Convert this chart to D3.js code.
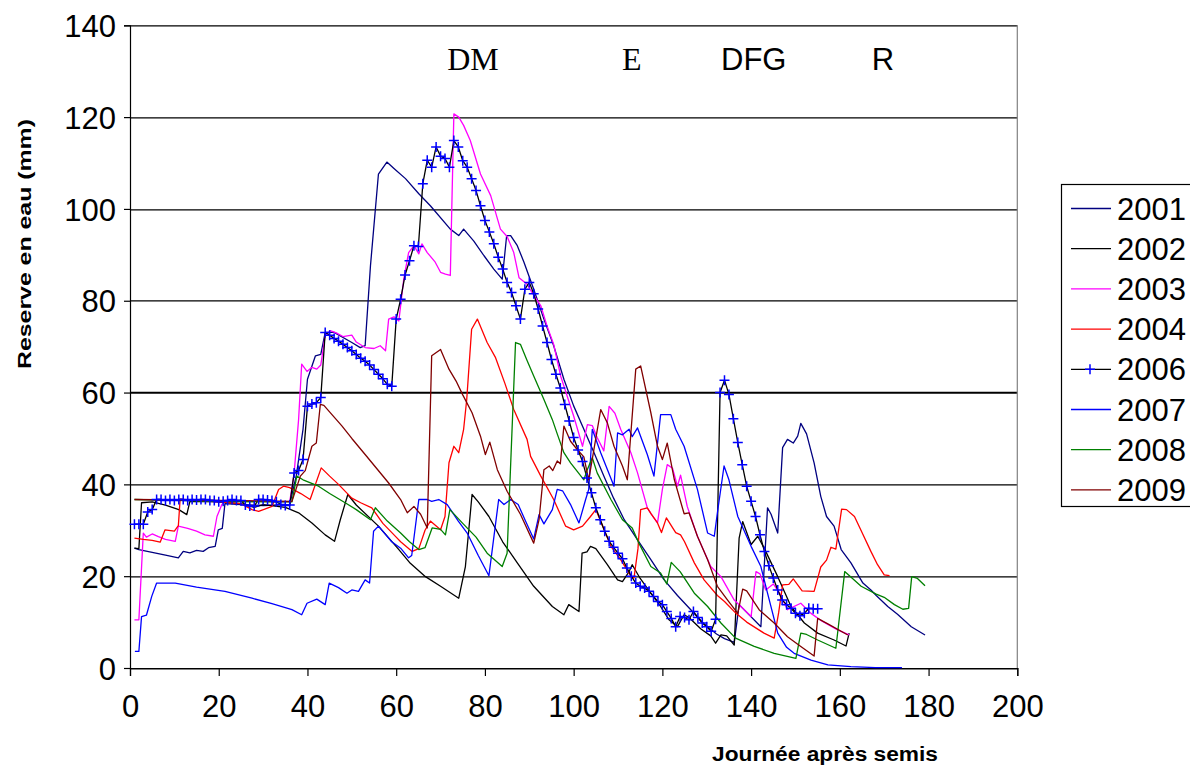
<!DOCTYPE html>
<html>
<head>
<meta charset="utf-8">
<script src="https://cdn.jsdelivr.net/npm/d3@7/dist/d3.min.js"></script>
<style>
body { margin: 0; background: #fff; }
svg text { font-family: Arial, "Liberation Sans", sans-serif; fill: #000; }
</style>
</head>
<body>
<svg id="chart" width="1190" height="767"></svg>
<script>
// Series (day after sowing, water reserve in mm)
var years = ['2001', '2002', '2003', '2004', '2006', '2007', '2008', '2009'];
var colors = ['#000080', '#000000', '#ff00ff', '#ff0000', '#000000', '#0000ff', '#008000', '#800000'];

var s2001 = [[1,26.1],[2,25.8],[5,25.2],[8,24.6],[10.9,24],[12,25.4],[13.5,25.1],[15,25.6],[16.5,25.4],[17.7,26.2],[19.2,26.5],[19.9,30.1],[20.8,30.4],[21.4,35.8],[25,35.6],[30,35.4],[36,35.6],[37.5,42],[39,52],[40,62.9],[41.8,68],[43,68.3],[44,73.1],[46,73.1],[50,70.9],[51.9,69.8],[53,70.2],[54.2,87.6],[56,107.6],[57.9,110.2],[59.5,108.8],[62.1,106.6],[65.1,103.3],[67.7,100.7],[72.2,95.6],[74.1,94.2],[75.2,95.6],[77.5,93],[79.8,89.8],[82,86.9],[83.9,84.7],[84.9,94.2],[85.8,94.2],[87.3,92],[88.8,88.4],[91,82.5],[93.3,76],[95.5,70.2],[97.8,62.9],[100,57.1],[102.3,52],[104.6,46.9],[106.8,41.8],[109,37],[111.4,32.3],[114.4,27.9],[117.4,23.6],[120.4,19.2],[123.4,15.8],[126.4,12.7],[129.2,9.8],[132.2,7.4],[134,6.4],[136.2,5.6],[137.3,13.8],[142.2,9],[143.7,34.9],[144.5,33.5],[146,29.4],[147.1,48],[148.2,49.8],[149.5,49],[150.5,50.5],[151.2,53.3],[152.5,51],[154.2,44.7],[155.7,37.4],[157,33],[158.7,30.9],[160.3,25.8],[162.5,22.9],[165.2,18.5],[167,17],[168.2,15.8],[170.8,13.4],[173,11.7],[176.1,9],[179.2,7.2]];

var s2002 = [[1,26.1],[2,26],[2.6,36],[5,36.2],[8,35.5],[11,34.5],[12.8,33.4],[13.5,36.3],[20,36.2],[25,35.8],[28,35],[30,35.6],[35,35],[38,33.8],[41,31.6],[44,29],[46.1,27.6],[47.4,32.3],[49.1,37.8],[51,35.5],[56,30.9],[60.6,25.8],[63,23],[66.6,19.9],[70,17.8],[74.1,15.2],[75.6,22.1],[77.1,37.8],[78.5,36.2],[80.9,33],[84,27.5],[87.3,22.9],[91,17.8],[95.2,13.4],[97.8,11.6],[98.9,13.8],[101.2,12.3],[101.9,25],[103,25.3],[103.8,26.5],[105,26],[107.6,22.5],[109.9,19.2],[111,18.8],[112.5,21],[113.2,22.5],[115,19.5],[117.4,16.3],[119.6,13.4],[121.5,10.5],[123.4,9],[124.9,11.6],[126,11],[128.7,8.5],[130.9,7],[132,5.4],[133.2,7.2],[134.5,7],[136.2,5],[137.3,28.3],[138.1,31.9],[140,26.9],[141.5,28.7],[143,26],[146,19.9],[149,13.4],[152,9.8],[155,7.6],[158.7,6.1],[161.4,4.8],[162.1,7.6]];

var s2003 = [[1,10.5],[2,10.5],[3,29.4],[3.7,28.5],[5,29.2],[6.4,28.6],[8,28],[10.2,27.6],[10.9,30.9],[13,30.4],[15,29.8],[16.9,29],[18.8,28.7],[19.6,33],[20.7,35.6],[21.5,36.5],[30,36.3],[36,36.2],[37,42.5],[38,54.1],[38.7,66.2],[39.9,64.6],[41,65.5],[42.1,65.1],[43,66],[44,72.4],[45.1,73.5],[46.5,73],[48,72.2],[50,72.5],[51,71],[53,69.8],[55,69.6],[56.4,70.2],[57.6,69.1],[58.3,76],[59.5,76.5],[60.6,75.6],[61.7,84.7],[62.8,90.5],[64,92],[65.1,90.2],[65.8,92.4],[67,90.5],[68.8,88.4],[70,86.2],[71.1,85.8],[72.2,85.5],[73,120.7],[74.1,120],[75.2,118.2],[76.7,114.9],[79,107.6],[81.3,102.9],[83.5,95.6],[85,94],[86.5,90.5],[87.7,85],[89.5,83.6],[90.5,82],[92.6,78.9],[94,74.5],[95.5,70.5],[97.1,63.5],[100,54.9],[102,48.3],[103.1,53],[104.2,52.8],[105.3,50.2],[106.8,47.3],[108,57],[109.3,55.5],[110.6,52],[112.9,46.9],[114.4,42.5],[116.6,34.9],[117.5,33.5],[118.9,31.6],[120,38.9],[121.1,44.3],[122.3,43.5],[123.4,39.6],[124.1,42],[125.6,35.2],[127.9,28.7],[130.9,22.1],[133.2,19.9],[136.2,14.8],[140,11.2],[141.1,21],[142,20.5],[143.3,17],[145,18.3],[146.3,16.5],[148.2,12.7],[151.2,14.1],[153.5,11.9],[156,10.2],[159.5,8.3],[162.1,7.2]];

var s2004 = [[1,28.3],[3,28],[5,27.8],[6.8,27.4],[7.9,30.1],[10,29.8],[10.9,31],[11.3,36.8],[15,36.5],[20,36.2],[25,35.8],[27.5,34.5],[29,34.1],[32,35.2],[33.5,38.9],[34.6,39.6],[36,39.3],[38.5,38],[40.6,36.7],[43.1,43.6],[45,41.8],[47,40],[50,37],[52,36],[54.5,34.9],[57,31.5],[60,28.5],[61,27.5],[63.6,25.4],[65.1,26],[66.5,30],[67.7,32],[70,30.1],[71,33],[71.9,44.7],[73,48.3],[74.1,46.9],[75.2,52],[75.9,58.5],[77,73.8],[78.3,76],[80.5,70.9],[82.4,67.6],[84.5,62],[86.5,56.3],[89.5,49.8],[90.3,46.1],[92.6,41.8],[95.5,36.7],[98.2,30.9],[100,30.1],[102,30.9],[103.8,33],[105,34.5],[106.5,31],[108.4,26.5],[110.6,23.6],[112.9,20],[113.6,19.6],[114.5,26],[115.1,34.5],[116.6,34.9],[117.5,33.5],[118.9,31.6],[119.8,29.5],[120.9,32.7],[123,29.5],[124.1,29],[125,27.5],[127.2,22.9],[129.4,19.2],[132.4,15.8],[134,14.5],[136.6,11.9],[139,10],[142.9,7.6],[145.2,6.5],[146.2,12],[147.1,18.1],[148.5,18.2],[149.5,19.4],[151.5,16.8],[154.2,16.7],[155.7,22],[157,23.5],[158,26.3],[159.1,25.9],[160.4,34.6],[161.5,34.5],[163.3,33],[165,29.5],[167,25.4],[168.5,22.5],[170,20.3],[171.2,20.1]];

// 2006 is daily, drawn with markers
var s2006 = [31.3,31.3,31.3,34,34.5,36.7,36.7,36.5,36.7,36.5,36.7,36.7,36.5,36.7,36.6,36.7,36.7,36.5,36.5,36.2,36.3,36.5,36.7,36.5,36.5,35.5,35.3,35.3,36.7,36.7,36.6,36.5,36.2,35.6,35.4,35.5,42.5,43,45.4,57,57.5,57.8,58.9,73.1,72.5,71.8,71.2,70.5,69.8,69.1,68.3,67.5,66.8,66,65,64,63,61.8,61.4,76,80.3,85.6,88.7,92,91.8,105.5,110.6,109.1,113.5,111.5,111,109.1,114.9,113.5,110.5,109.1,106.6,104,100.7,97.5,95,92.4,89.5,86.9,84,81.8,78.9,76,82.5,84,81.5,78.2,74.5,70.9,67.2,64,61,57.4,53.8,50.2,47.5,45,41.4,38.2,34.9,32.3,29.8,27.6,26.3,25,23.8,21.8,20,18.5,17.8,17.4,16.7,15.6,14.5,13.8,12.3,10.8,9,11.2,11,10.5,12.3,11,9.8,9,8,10.6,60,62.7,59.6,54.3,49.1,44.3,39.6,36.3,33,29,25.4,22.3,19.6,17,14.8,13.8,13,11.9,11.4,11.9,13,12.9,12.9];

var s2007 = [[1.1,3.6],[2,3.6],[2.6,11.2],[3.7,11.5],[4.9,15.6],[6,18.5],[10.2,18.5],[15,17.6],[21.4,16.7],[27.5,15.2],[32,14],[36.5,12.7],[38.7,11.6],[39.9,14.1],[42.1,15],[44,13.8],[44.9,18.5],[47,17.5],[48.9,16.3],[50,17],[51.5,16.7],[53,19.2],[54,18.5],[54.9,29.8],[56,30.9],[59,27.5],[61,26.1],[62.8,24],[63.5,24.5],[65.1,36.7],[67,36.7],[68,36.3],[69.6,36.7],[71.5,35.6],[74,32],[76,29.4],[78.5,24.5],[80.9,20.1],[83.1,36.7],[84.3,35.6],[85.8,36.7],[87.5,35.6],[89.2,31.9],[91,28.1],[92.2,33.4],[93.3,31.4],[95.2,34.5],[96.3,38.9],[97.5,38.6],[99.3,35.6],[101.2,31.6],[102.7,36.7],[103.4,38.9],[104.2,52],[106.1,46.9],[109.1,39.6],[109.9,51.2],[111,50.8],[112.5,52],[113.2,50.4],[114.4,52.3],[116.6,46.5],[118.1,41.8],[119.6,55.2],[121.9,55.2],[123,52],[124.9,48.3],[127.9,38.9],[130.2,29.4],[131.7,28.7],[132.4,33.8],[133.9,44],[135,41],[137,33],[140,26.5],[142.2,22.1],[143.7,16.3],[146,7.6],[148,4.5],[149.7,3.2],[153.5,1.7],[157.3,0.7],[162.5,0.3],[168,0.1],[174,0.1]];

var s2008 = [[1,36.7],[10,36.5],[20,36.3],[30,36.2],[36.5,36.2],[37.6,41.8],[39,41],[42.5,39.6],[45,38],[48.5,36],[51,34.5],[54.2,32.3],[55.3,34.9],[58,32],[61,29.4],[63,27.5],[65.1,25.8],[66.5,26.2],[68.1,30.5],[70,30.2],[71.1,29],[72.1,34.5],[75,31.5],[78,28.5],[80.5,25],[83.9,22.1],[85,25],[86.9,70.9],[88,70.5],[89.5,67],[91,63.6],[93.3,58.5],[95.2,54.1],[96.3,51],[97.8,46.9],[99.3,44.7],[100.9,42.7],[102.3,41],[103,43],[104.2,45.8],[105.3,42.5],[108.4,36.7],[111,32.3],[113.2,30.5],[114.7,27.2],[117.4,22.1],[119.6,20.7],[121,18.3],[122,23],[124,21],[127.2,16.3],[130.2,13.4],[133.2,9.8],[136.5,6.5],[140.7,4.7],[145.2,3.2],[150.1,2.1],[151.2,7.6],[152.5,7.3],[155,6.1],[159.1,4.3],[161.1,21],[164.8,17.8],[168.2,16.1],[170,15.4],[172.3,13.8],[174.2,12.8],[175.5,13],[176.2,19.9],[177.5,19.5],[179.2,17.9]];

var s2009 = [[1,36.7],[10,36.6],[20,36.5],[30,36.4],[36.5,36.3],[38.4,41.8],[39.5,43],[41,48.3],[42,49],[42.9,57.4],[43.7,57.2],[47.8,52.7],[50,50],[53,46.5],[58.3,40.3],[61,36.7],[62.5,33.8],[64,35.2],[65.5,33.5],[67,30.5],[68,68],[70,69.4],[71.9,65.1],[73.5,62.5],[75,59.5],[77.1,55.6],[79,50.5],[80.1,46.5],[81.1,49.2],[82.8,43.2],[85,38.5],[88,33.5],[91,27.2],[92.2,32.3],[93.3,43.2],[94.5,44],[95.3,43],[96.3,45.1],[97,44.5],[97.8,52.7],[99.3,49.4],[100.8,47.6],[102.3,46],[103.4,41],[106.1,56.3],[107.6,53.4],[109.1,48.3],[111,44],[112.1,41],[114,65.1],[115.1,65.8],[117.4,55.6],[118.9,48.3],[120,45.4],[121.1,49],[122.7,41],[124.9,33.6],[126,33.8],[127.9,28.7],[130.2,23.6],[132.4,17.8],[134.7,14.8],[137,11.9],[138.1,17.2],[139,16.8],[141.8,12.7],[145.2,9.8],[148.2,6.8],[151.2,4.7],[154.2,2.6],[155,10.8],[157.5,9.5],[161.8,7.2]];

var xTicks = [0, 20, 40, 60, 80, 100, 120, 140, 160, 180, 200];
var yTicks = [0, 20, 40, 60, 80, 100, 120, 140];
var stageLabels = [
	{ text: 'DM', day: 77.3, serif: true },
	{ text: 'E', day: 113.1, serif: true },
	{ text: 'DFG', day: 140.6, serif: false },
	{ text: 'R', day: 169.7, serif: false }
];

var series = [
	s2001, s2002, s2003, s2004,
	s2006.map(function(v, i) { return [i + 1, v]; }),
	s2007, s2008, s2009
];

/*
 * Setup
 */
var margins = { top: 25.3, left: 130 };
var chartWidth = 887.3;
var chartHeight = 642.7;

var svg = d3.select('#chart');
svg.append('rect').attr('width', 1190).attr('height', 767).attr('fill', '#fff');

var chartElement = svg.append('g')
	.attr('transform', 'translate(' + margins.left + ',' + margins.top + ')');

var xScale = d3.scaleLinear().domain([0, 200]).range([0, chartWidth]);
var yScale = d3.scaleLinear().domain([0, 140]).range([chartHeight, 0]);

/*
 * Grid + frame
 */
chartElement.append('g')
	.attr('class', 'y grid')
	.selectAll('line')
	.data(yTicks)
	.enter()
	.append('line')
	.attr('x1', 0)
	.attr('x2', chartWidth)
	.attr('y1', function(d) { return Math.round(yScale(d)) + 0.5; })
	.attr('y2', function(d) { return Math.round(yScale(d)) + 0.5; })
	.attr('stroke', '#000')
	.attr('stroke-width', function(d) { return d === 60 ? 2 : 1.2; });

chartElement.append('line')
	.attr('x1', chartWidth).attr('x2', chartWidth)
	.attr('y1', 0).attr('y2', chartHeight)
	.attr('stroke', '#808080').attr('stroke-width', 1.2);

/*
 * Axes
 */
var xAxis = d3.axisBottom(xScale)
	.tickValues(xTicks)
	.tickSize(8)
	.tickPadding(30);

var yAxis = d3.axisLeft(yScale)
	.tickValues(yTicks)
	.tickSize(6)
	.tickPadding(8);

var xAxisG = chartElement.append('g')
	.attr('class', 'x axis')
	.attr('transform', 'translate(0,' + chartHeight + ')')
	.call(xAxis);

var yAxisG = chartElement.append('g')
	.attr('class', 'y axis')
	.call(yAxis);

[xAxisG, yAxisG].forEach(function(g) {
	g.select('.domain').attr('stroke', '#000').attr('stroke-width', 1.2);
	g.selectAll('.tick line').attr('stroke', '#000').attr('stroke-width', 1.2);
	g.selectAll('.tick text')
		.attr('fill', '#000')
		.style('font-size', '31px')
		.style('font-family', 'Arial, "Liberation Sans", sans-serif');
});
yAxisG.selectAll('.tick text').attr('dy', '0.36em');
xAxisG.selectAll('.tick text').attr('dy', '0.36em');

/*
 * Lines
 */
var line = d3.line()
	.x(function(d) { return xScale(d[0]); })
	.y(function(d) { return yScale(d[1]); });

chartElement.append('g')
	.attr('class', 'lines')
	.selectAll('path')
	.data(series)
	.enter()
	.append('path')
	.attr('fill', 'none')
	.attr('stroke', function(d, i) { return colors[i]; })
	.attr('stroke-width', 1.3)
	.attr('stroke-linejoin', 'round')
	.attr('d', line);

// 2006 markers
var markerSize = 5;
chartElement.append('g')
	.attr('class', 'markers')
	.selectAll('path')
	.data(series[4])
	.enter()
	.append('path')
	.attr('transform', function(d) {
		return 'translate(' + xScale(d[0]) + ',' + yScale(d[1]) + ')';
	})
	.attr('d', 'M' + -markerSize + ',0H' + markerSize + 'M0,' + -markerSize + 'V' + markerSize)
	.attr('stroke', '#0000ff')
	.attr('stroke-width', 1.5)
	.attr('fill', 'none');

/*
 * Stage labels
 */
chartElement.append('g')
	.selectAll('text')
	.data(stageLabels)
	.enter()
	.append('text')
	.attr('x', function(d) { return xScale(d.day); })
	.attr('y', 45)
	.attr('text-anchor', 'middle')
	.style('font-size', function(d) { return d.serif ? '32px' : '31px'; })
	.style('font-family', function(d) {
		return d.serif ? '"Liberation Serif", "Times New Roman", serif' : 'Arial, "Liberation Sans", sans-serif';
	})
	.text(function(d) { return d.text; });

/*
 * Axis titles
 */
svg.append('text')
	.attr('transform', 'translate(31,' + 244 + ') rotate(-90)')
	.attr('text-anchor', 'middle')
	.attr('textLength', 250)
	.attr('lengthAdjust', 'spacingAndGlyphs')
	.style('font-size', '19px')
	.style('font-weight', 'bold')
	.text('Reserve en eau  (mm)');

svg.append('text')
	.attr('x', 825)
	.attr('y', 761)
	.attr('text-anchor', 'middle')
	.attr('textLength', 226)
	.attr('lengthAdjust', 'spacingAndGlyphs')
	.style('font-size', '20px')
	.style('font-weight', 'bold')
	.text('Journée après semis');

/*
 * Legend
 */
var legend = svg.append('g').attr('class', 'legend');
legend.append('rect')
	.attr('x', 1061.5).attr('y', 184.5)
	.attr('width', 140).attr('height', 322)
	.attr('fill', '#fff')
	.attr('stroke', '#000')
	.attr('stroke-width', 1.2);

var legendItems = legend.selectAll('g.item')
	.data(years)
	.enter()
	.append('g')
	.attr('class', 'item')
	.attr('transform', function(d, i) { return 'translate(0,' + (208.5 + i * 40.2) + ')'; });

legendItems.append('line')
	.attr('x1', 1071).attr('x2', 1111)
	.attr('y1', 0).attr('y2', 0)
	.attr('stroke', function(d, i) { return colors[i]; })
	.attr('stroke-width', 1.3);

legendItems.filter(function(d) { return d === '2006'; })
	.append('path')
	.attr('d', 'M1085,0H1095M1090,-5V5')
	.attr('stroke', '#0000ff')
	.attr('stroke-width', 1.5);

legendItems.append('text')
	.attr('x', 1117)
	.attr('y', 0)
	.attr('dy', '0.36em')
	.style('font-size', '31px')
	.text(function(d) { return d; });
</script>
</body>
</html>
